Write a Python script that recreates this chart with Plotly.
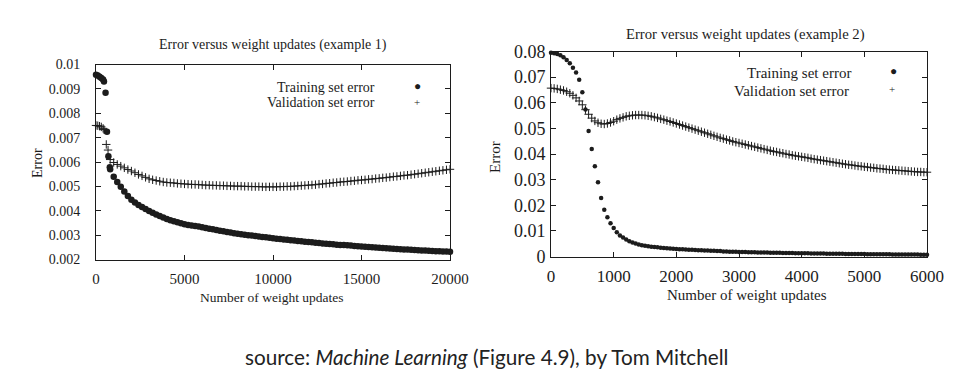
import plotly.graph_objects as go

# ---------------- Example 1 data ----------------
ex1_train_x = [0, 100, 200, 300, 400, 450, 540, 620, 700, 780] + list(range(800, 20001, 200))
ex1_train_y = [0.00958, 0.00955, 0.00950, 0.00945, 0.00938, 0.00930, 0.00884, 0.00724, 0.00624, 0.00578,
               0.00570, 0.00540,
               0.00518, 0.00498, 0.00479, 0.00461, 0.00445,
               0.00434, 0.00424, 0.00415, 0.00407, 0.00399,
               0.00392, 0.00385, 0.00378, 0.00372, 0.00366,
               0.00361, 0.00357, 0.00353, 0.00349, 0.00345,
               0.00342, 0.00340, 0.00337, 0.00335, 0.00332,
               0.00329, 0.00326, 0.00324, 0.00321, 0.00318,
               0.00316, 0.00313, 0.00311, 0.00308, 0.00306,
               0.00304, 0.00302, 0.00300, 0.00298, 0.00296,
               0.00294, 0.00292, 0.00291, 0.00289, 0.00287,
               0.00285, 0.00284, 0.00282, 0.00281, 0.00279,
               0.00278, 0.00276, 0.00275, 0.00273, 0.00272,
               0.00271, 0.00269, 0.00268, 0.00266, 0.00265,
               0.00264, 0.00263, 0.00261, 0.00260, 0.00259,
               0.00258, 0.00257, 0.00255, 0.00254, 0.00253,
               0.00252, 0.00251, 0.00250, 0.00249, 0.00248,
               0.00247, 0.00246, 0.00245, 0.00244, 0.00243,
               0.00242, 0.00241, 0.00241, 0.00240, 0.00239,
               0.00238, 0.00237, 0.00237, 0.00236, 0.00235,
               0.00234, 0.00234, 0.00233, 0.00233, 0.00232]

ex1_val_x = [0, 100, 200, 300, 400, 450, 580, 680] + list(range(800, 20001, 200))
ex1_val_y = [0.00750, 0.00749, 0.00747, 0.00744, 0.00738, 0.00733, 0.00672, 0.00649,
             0.00610, 0.00598,
             0.00590, 0.00583, 0.00576, 0.00569, 0.00563,
             0.00556, 0.00549, 0.00543, 0.00537, 0.00531,
             0.00527, 0.00524, 0.00521, 0.00518, 0.00516,
             0.00515, 0.00514, 0.00512, 0.00511, 0.00510,
             0.00509, 0.00508, 0.00508, 0.00507, 0.00506,
             0.00505, 0.00505, 0.00504, 0.00504, 0.00503,
             0.00503, 0.00502, 0.00502, 0.00501, 0.00501,
             0.00501, 0.00500, 0.00500, 0.00499, 0.00499,
             0.00499, 0.00498, 0.00498, 0.00498, 0.00498,
             0.00498, 0.00499, 0.00499, 0.00500, 0.00500,
             0.00501, 0.00502, 0.00503, 0.00504, 0.00505,
             0.00506, 0.00507, 0.00509, 0.00510, 0.00512,
             0.00513, 0.00515, 0.00516, 0.00518, 0.00519,
             0.00520, 0.00522, 0.00523, 0.00525, 0.00526,
             0.00527, 0.00529, 0.00530, 0.00532, 0.00533,
             0.00535, 0.00536, 0.00538, 0.00540, 0.00541,
             0.00543, 0.00545, 0.00546, 0.00548, 0.00550,
             0.00552, 0.00554, 0.00556, 0.00558, 0.00560,
             0.00562, 0.00564, 0.00566, 0.00568, 0.00570]

# ---------------- Example 2 data ----------------
ex2_x = list(range(0, 6001, 50))
ex2_train_y = [0.0795, 0.0793, 0.0790, 0.0785, 0.0778, 0.0767, 0.0754, 0.0737, 0.0718, 0.0690,
               0.0641, 0.0574, 0.0490, 0.0420, 0.0352, 0.0290, 0.0228, 0.0182, 0.0153, 0.0130,
               0.0111, 0.0095, 0.0082, 0.0074, 0.0066, 0.0060, 0.0055, 0.0051, 0.0047, 0.0044,
               0.0042, 0.0040, 0.0038, 0.0037, 0.0036, 0.0034, 0.0033, 0.0032, 0.0031, 0.0030,
               0.0029, 0.0028, 0.0028, 0.0027, 0.0026, 0.0026, 0.0025, 0.0024, 0.0024, 0.0023,
               0.0023, 0.0022, 0.0022, 0.0021, 0.0021, 0.0020, 0.0020, 0.0019, 0.0019, 0.0019,
               0.0018, 0.0018, 0.0018, 0.0017, 0.0017, 0.0017, 0.0016, 0.0016, 0.0016, 0.0016,
               0.0015, 0.0015, 0.0015, 0.0015, 0.0014, 0.0014, 0.0014, 0.0014, 0.0013, 0.0013,
               0.0013, 0.0013, 0.0013, 0.0012, 0.0012, 0.0012, 0.0012, 0.0012, 0.0011, 0.0011,
               0.0011, 0.0011, 0.0011, 0.0011, 0.0010, 0.0010, 0.0010, 0.0010, 0.0010, 0.0010,
               0.0010, 0.0009, 0.0009, 0.0009, 0.0009, 0.0009, 0.0009, 0.0009, 0.0009, 0.0008,
               0.0008, 0.0008, 0.0008, 0.0008, 0.0008, 0.0008, 0.0008, 0.0008, 0.0007, 0.0007,
               0.0007]
ex2_val_y = [0.0657, 0.0656, 0.0654, 0.0651, 0.0648, 0.0643, 0.0637, 0.0629, 0.0619, 0.0607,
             0.0592, 0.0573, 0.0555, 0.0540, 0.0529, 0.0522, 0.0518, 0.0517, 0.0519, 0.0523,
             0.0528, 0.0534, 0.0539, 0.0543, 0.0547, 0.0549, 0.0551, 0.0552, 0.0552, 0.0552,
             0.0551, 0.0549, 0.0547, 0.0544, 0.0541, 0.0537, 0.0534, 0.0530, 0.0527, 0.0523,
             0.0519, 0.0515, 0.0511, 0.0507, 0.0503, 0.0499, 0.0495, 0.0491, 0.0487, 0.0483,
             0.0479, 0.0475, 0.0471, 0.0467, 0.0463, 0.0460, 0.0456, 0.0453, 0.0449, 0.0446,
             0.0443, 0.0440, 0.0437, 0.0434, 0.0431, 0.0428, 0.0425, 0.0422, 0.0419, 0.0416,
             0.0413, 0.0410, 0.0408, 0.0405, 0.0403, 0.0400, 0.0398, 0.0395, 0.0393, 0.0391,
             0.0389, 0.0387, 0.0385, 0.0382, 0.0380, 0.0378, 0.0376, 0.0374, 0.0372, 0.0370,
             0.0368, 0.0366, 0.0364, 0.0362, 0.0360, 0.0358, 0.0357, 0.0355, 0.0353, 0.0352,
             0.0350, 0.0349, 0.0347, 0.0346, 0.0344, 0.0343, 0.0342, 0.0340, 0.0339, 0.0338,
             0.0337, 0.0336, 0.0335, 0.0334, 0.0333, 0.0332, 0.0331, 0.0330, 0.0330, 0.0329,
             0.0329]

# ---------------- Tick labels ----------------
ex1_xticks = [0, 5000, 10000, 15000, 20000]
ex1_yticks = [0.002, 0.003, 0.004, 0.005, 0.006, 0.007, 0.008, 0.009, 0.01]
ex1_ylabels = ["0.002", "0.003", "0.004", "0.005", "0.006", "0.007", "0.008", "0.009", "0.01"]
ex2_xticks = [0, 1000, 2000, 3000, 4000, 5000, 6000]
ex2_yticks = [0, 0.01, 0.02, 0.03, 0.04, 0.05, 0.06, 0.07, 0.08]
ex2_ylabels = ["0", "0.01", "0.02", "0.03", "0.04", "0.05", "0.06", "0.07", "0.08"]

INK = "#1c1c1c"
SERIF = "Liberation Serif"
OFF = 8                    # default page margin of the HTML body
W, H = 970 - OFF, 384 - OFF

fig = go.Figure()

def dots(x, y, xa, ya, size):
    return go.Scatter(x=x, y=y, mode="markers", xaxis=xa, yaxis=ya, cliponaxis=False,
                      marker=dict(symbol="circle", size=size, color=INK, line=dict(width=0)),
                      showlegend=False, hoverinfo="skip")

def plus(x, y, xa, ya, size):
    return go.Scatter(x=x, y=y, mode="markers", xaxis=xa, yaxis=ya, cliponaxis=False,
                      marker=dict(symbol="cross-thin", size=size, color=INK,
                                  line=dict(width=1, color=INK)),
                      showlegend=False, hoverinfo="skip")

fig.add_trace(plus(ex1_val_x, ex1_val_y, "x", "y", 6))
fig.add_trace(dots(ex1_train_x, ex1_train_y, "x", "y", 6.5))
fig.add_trace(plus(ex2_x, ex2_val_y, "x2", "y2", 6))
fig.add_trace(dots(ex2_x, ex2_train_y, "x2", "y2", 4.5))

def axis_common(size, standoff):
    return dict(showline=True, linecolor=INK, linewidth=1, mirror="ticks",
                ticks="inside", ticklen=5, tickcolor=INK, tickwidth=1,
                showgrid=False, zeroline=False, fixedrange=True, automargin=False,
                ticklabelstandoff=standoff,
                tickfont=dict(family=SERIF, size=size, color=INK))

def px(x):
    return (x - OFF) / W

def py(y):
    return 1 - (y - OFF) / H

fig.update_layout(
    width=W, height=H,
    margin=dict(l=0, r=0, t=0, b=0, pad=0),
    paper_bgcolor="white", plot_bgcolor="white",
    xaxis=dict(domain=[px(96), px(450)], range=[0, 20000], tickvals=ex1_xticks,
               ticktext=[str(v) for v in ex1_xticks], anchor="y", **axis_common(15, 5)),
    yaxis=dict(domain=[py(259.5), py(64.5)], range=[0.002, 0.01], tickvals=ex1_yticks,
               ticktext=ex1_ylabels, anchor="x", **axis_common(14, 12)),
    xaxis2=dict(domain=[px(551), px(927)], range=[0, 6000], tickvals=ex2_xticks,
                ticktext=[str(v) for v in ex2_xticks], anchor="y2", **axis_common(17, 4)),
    yaxis2=dict(domain=[py(256.5), py(51.5)], range=[0, 0.08], tickvals=ex2_yticks,
                ticktext=ex2_ylabels, anchor="x2", **axis_common(18, 1)),
)

def note(text, x, y, size=14, angle=0, xanchor="center", family=SERIF, color=INK):
    fig.add_annotation(text=text, x=px(x), y=py(y), xref="paper", yref="paper",
                       showarrow=False, textangle=angle, xanchor=xanchor, yanchor="middle",
                       font=dict(family=family, size=size, color=color))

# titles
note("Error versus weight updates (example 1)", 273, 45, 14)
note("Error versus weight updates (example 2)", 745, 35, 14.7)
# axis titles
note("Error", 37, 163, 14, angle=-90)
note("Error", 495, 157, 15, angle=-90)
note("Number of weight updates", 272, 297, 13.5)
note("Number of weight updates", 747, 295, 15)
# legends
note("Training set error", 377, 87, 14, xanchor="right")
note("Validation set error", 377, 103, 14, xanchor="right")
note("\u25CF", 417, 86, 12)
note("+", 417, 102, 11)
note("Training set error", 853, 73, 15, xanchor="right")
note("Validation set error", 851, 90.5, 15, xanchor="right")
note("\u25CF", 893, 71, 12)
note("+", 892, 89, 11)
# source
note("source: <i>Machine Learning</i> (Figure 4.9), by Tom Mitchell", 486, 357, 20.7,
     family="Lato", color="#222222")

fig.write_html("out.html")
